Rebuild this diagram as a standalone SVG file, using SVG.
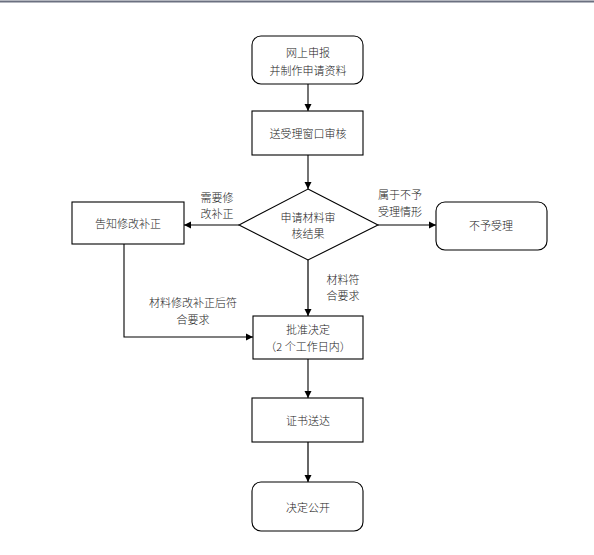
<svg xmlns="http://www.w3.org/2000/svg" width="594" height="555" viewBox="0 0 594 555">
<defs>
<marker id="ah" markerWidth="8" markerHeight="8" refX="7" refY="4" orient="auto" markerUnits="userSpaceOnUse">
<path d="M0,0.5 L7,4 L0,7.5 Z" fill="#000"/>
</marker>
</defs>
<style>
.box{fill:#fff;stroke:#000;stroke-width:1.1}
.t{font-family:"Noto Sans CJK SC","Liberation Sans",sans-serif;font-size:11px;font-weight:300;fill:#222;text-anchor:middle;dominant-baseline:central}
.c{fill:none;stroke:#000;stroke-width:1.1}
.g{stroke:#666;stroke-width:2}
</style>
<rect x="0" y="0" width="594" height="555" fill="#fff"/>
<line x1="0" y1="1.5" x2="594" y2="1.5" stroke="#6b7080" stroke-width="2"/>
<g id="connectors">
<line class="c" x1="308" y1="84" x2="308" y2="111" marker-end="url(#ah)"/>
<line class="c" x1="308" y1="155" x2="308" y2="189" marker-end="url(#ah)"/>
<line class="c" x1="239" y1="225" x2="184" y2="225" marker-end="url(#ah)"/>
<line class="c" x1="378" y1="225" x2="436" y2="225" marker-end="url(#ah)"/>
<line class="c g" x1="308" y1="260" x2="308" y2="316" marker-end="url(#ah)"/>
<polyline class="c" points="124,244 124,337 253,337" marker-end="url(#ah)"/>
<line class="c" x1="308" y1="359" x2="308" y2="398" marker-end="url(#ah)"/>
<line class="c g" x1="308" y1="442" x2="308" y2="482" marker-end="url(#ah)"/>
<text class="t" x="217" y="197">需要修</text>
<text class="t" x="217" y="213">改补正</text>
<text class="t" x="400" y="194">属于不予</text>
<text class="t" x="400" y="211">受理情形</text>
<text class="t" x="343" y="279">材料符</text>
<text class="t" x="343" y="295">合要求</text>
<text class="t" x="193" y="302">材料修改补正后符</text>
<text class="t" x="193" y="319">合要求</text>
</g>
<g id="n1">
<rect class="box" x="252" y="36" width="111" height="48" rx="9"/>
<text class="t" x="308" y="52">网上申报</text>
<text class="t" x="308" y="70">并制作申请资料</text>
</g>
<g id="n2">
<rect class="box" x="252" y="111" width="111" height="44"/>
<text class="t" x="308" y="133">送受理窗口审核</text>
</g>
<g id="n3">
<polygon class="box" points="308,189 378,225 308,260 239,225"/>
<text class="t" x="308" y="217">申请材料审</text>
<text class="t" x="308" y="233">核结果</text>
</g>
<g id="n4">
<rect class="box" x="72" y="202" width="112" height="42"/>
<text class="t" x="128" y="223">告知修改补正</text>
</g>
<g id="n5">
<rect class="box" x="436" y="202" width="111" height="48" rx="9"/>
<text class="t" x="491" y="225">不予受理</text>
</g>
<g id="n6">
<rect class="box" x="253" y="316" width="110" height="43"/>
<text class="t" x="308" y="329">批准决定</text>
<text class="t" x="308" y="346">（2 个工作日内）</text>
</g>
<g id="n7">
<rect class="box" x="252" y="398" width="111" height="44"/>
<text class="t" x="308" y="420">证书送达</text>
</g>
<g id="n8">
<rect class="box" x="252" y="482" width="111" height="49" rx="9"/>
<text class="t" x="308" y="507">决定公开</text>
</g>
</svg>
